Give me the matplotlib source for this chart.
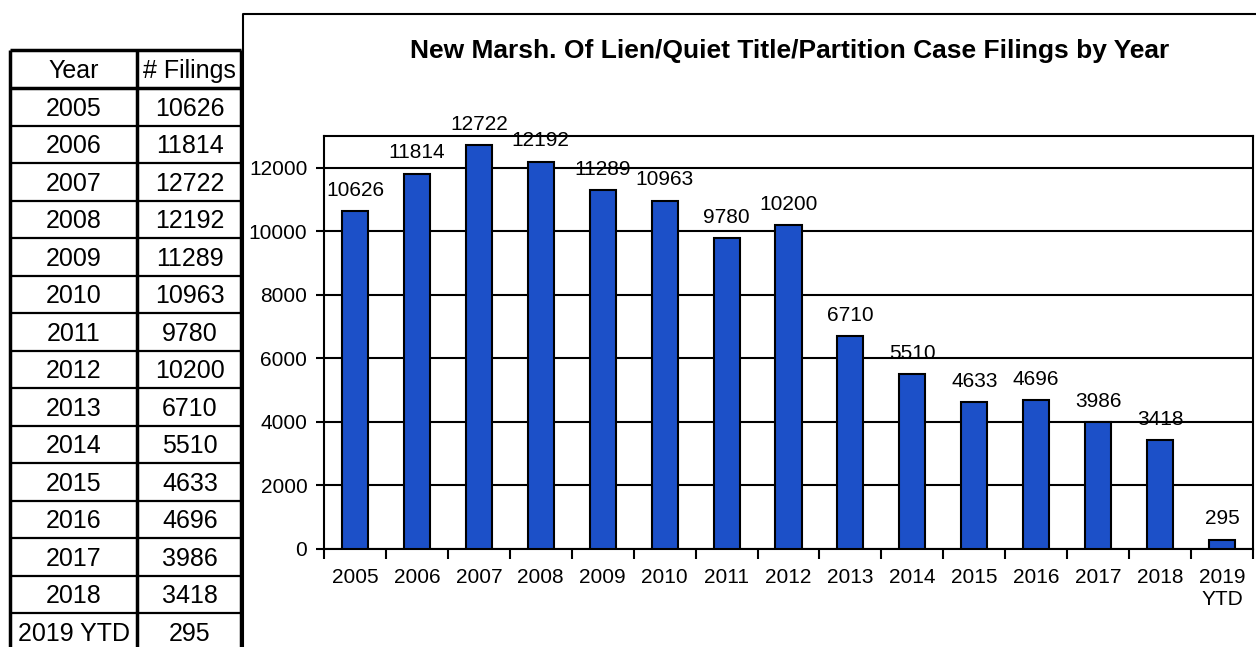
import numpy as np
import matplotlib
matplotlib.use('Agg')
import matplotlib.pyplot as plt
from matplotlib.ticker import MultipleLocator, FixedLocator

plt.rcParams['font.family'] = ['Liberation Sans', 'DejaVu Sans']

# data
table_years = ['2005', '2006', '2007', '2008', '2009', '2010', '2011', '2012',
               '2013', '2014', '2015', '2016', '2017', '2018', '2019 YTD']
chart_labels = ['2005', '2006', '2007', '2008', '2009', '2010', '2011', '2012',
                '2013', '2014', '2015', '2016', '2017', '2018', '2019\nYTD']
filings = [10626, 11814, 12722, 12192, 11289, 10963, 9780, 10200,
           6710, 5510, 4633, 4696, 3986, 3418, 295]
title = 'New Marsh. Of Lien/Quiet Title/Partition Case Filings by Year'

W, H = 1256, 647
fig = plt.figure(figsize=(W / 100, H / 100), dpi=100)

# background layer in pixel coords for the table and chart frame
bg = fig.add_axes([0, 0, 1, 1])
bg.set_xlim(0, W)
bg.set_ylim(H, 0)
bg.axis('off')

# chart frame
bg.plot([243, 243, W + 5], [H + 5, 14, 14], color='black', lw=1.5, solid_capstyle='butt')

# table
tx0, tx1, txm = 10, 241, 137
ty0, hdr_h, row_h = 50, 38, 37.5
n_rows = len(table_years)
y_lines = [ty0, ty0 + hdr_h] + [ty0 + hdr_h + row_h * (i + 1) for i in range(n_rows)]
for k, y in enumerate(y_lines):
    bg.plot([tx0, tx1], [y, y], color='black', lw=2.5 if k < 2 else 1.6, solid_capstyle='butt')
for x in (tx0, txm, tx1):
    bg.plot([x, x], [ty0, y_lines[-1]], color='black', lw=2.5, solid_capstyle='butt')

bg.text((tx0 + txm) / 2, ty0 + hdr_h / 2 + 2, 'Year', ha='center', va='center', fontsize=18)
bg.text(189, ty0 + hdr_h / 2 + 2, '# Filings', ha='center', va='center', fontsize=18)
for i, (yr, n) in enumerate(zip(table_years, filings)):
    yc = ty0 + hdr_h + row_h * (i + 0.5) + 2
    bg.text(74, yc, yr, ha='center', va='center', fontsize=18)
    bg.text(190, yc, str(n), ha='center', va='center', fontsize=18)

# title
fig.text(790 / W, 1 - 58 / H, title, ha='center', va='baseline',
         fontsize=19, fontweight='bold')

# bar chart
left, right, top, bottom = 324, 1253, 136, 549
ax = fig.add_axes([left / W, 1 - bottom / H, (right - left) / W, (bottom - top) / H])
x = np.arange(len(filings))
ax.bar(x, filings, width=0.42, color='#1c50c8', edgecolor='black', linewidth=1.5, zorder=3)
ax.set_xlim(-0.5, len(filings) - 0.5)
ax.set_ylim(0, 13000)

ax.yaxis.set_major_locator(MultipleLocator(2000))
ax.grid(axis='y', color='black', linewidth=1.5, zorder=1)
ax.set_xticks(x)
ax.set_xticklabels(chart_labels)
ax.xaxis.set_minor_locator(FixedLocator(np.arange(len(filings) + 1) - 0.5))
ax.tick_params(axis='x', which='major', length=0, pad=13.5, labelsize=15)
ax.tick_params(axis='x', which='minor', length=7, width=1.5, direction='out')
ax.tick_params(axis='y', length=6, width=1.5, pad=6, labelsize=15)
for s in ax.spines.values():
    s.set_linewidth(1.5)

for xi, v in zip(x, filings):
    ax.annotate(str(v), (xi, v), xytext=(0, 11), textcoords='offset points',
                ha='center', va='baseline', fontsize=15, zorder=4)

fig.savefig('out.png', dpi=100)
